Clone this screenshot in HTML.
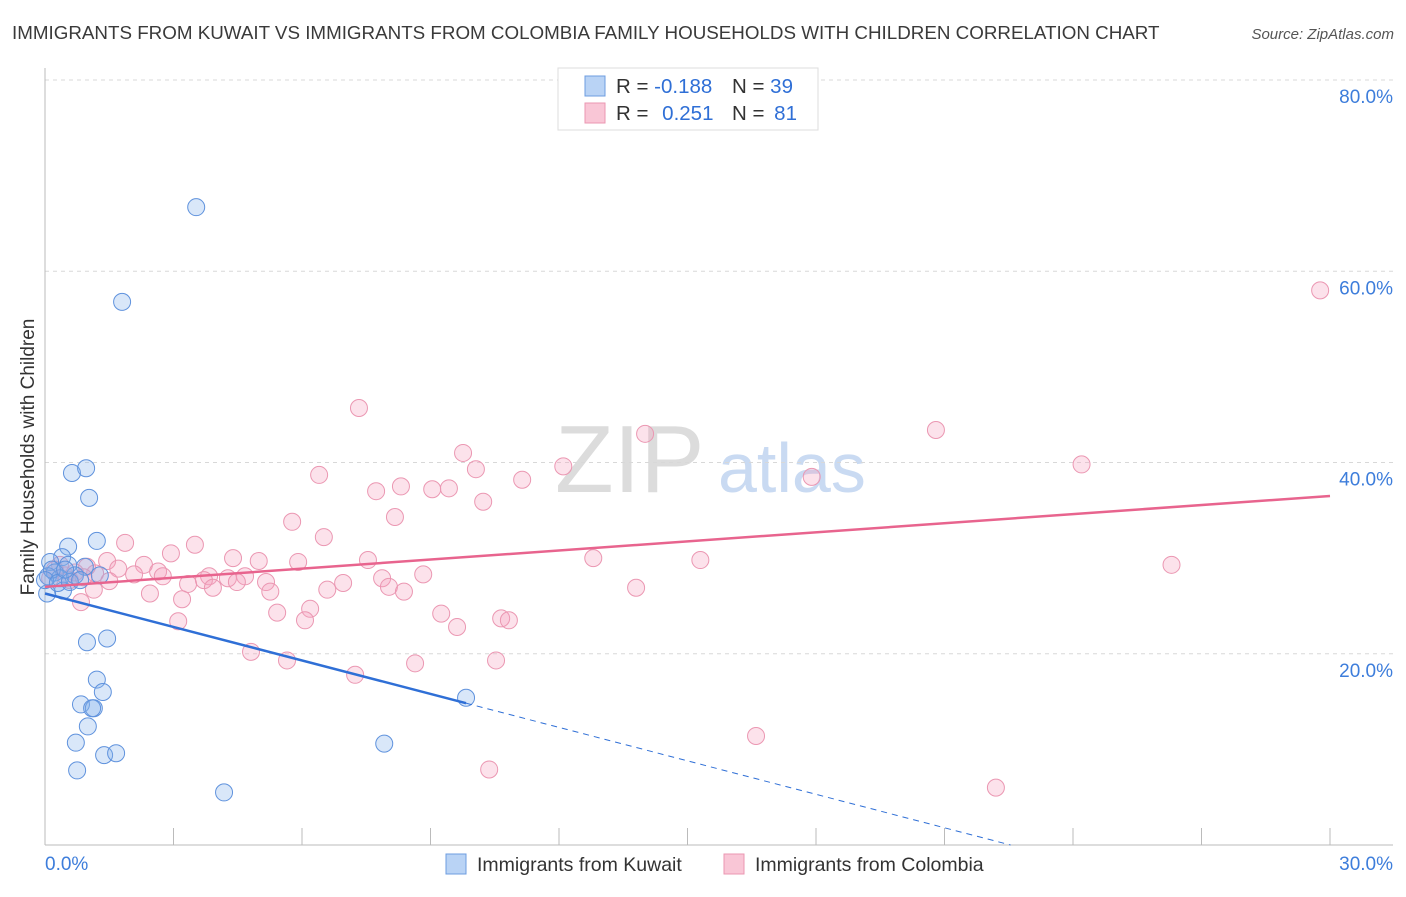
<!DOCTYPE html>
<html><head><meta charset="utf-8"><style>
body{margin:0;background:#fff;font-family:"Liberation Sans",sans-serif}
svg text{font-family:"Liberation Sans",sans-serif}
</style></head><body>
<svg id="c" width="1406" height="892">
<text x="12" y="39" font-size="18.8" fill="#3a3a3a">IMMIGRANTS FROM KUWAIT VS IMMIGRANTS FROM COLOMBIA FAMILY HOUSEHOLDS WITH CHILDREN CORRELATION CHART</text>
<text x="1394" y="39" font-size="15" fill="#555" font-style="italic" text-anchor="end">Source: ZipAtlas.com</text>
<text x="555" y="492" font-size="96" fill="#dcdcdc" font-family="Liberation Serif">ZIP</text>
<text x="718" y="492" font-size="70" fill="#c9daf2">atlas</text>
<text transform="translate(34,457) rotate(-90)" font-size="19" fill="#333" text-anchor="middle">Family Households with Children</text>
<g id="grid"></g><g id="pts"></g><g id="lines"></g>
<g>
<rect x="558" y="68" width="260" height="62" fill="#fff" stroke="#ddd"/>
<rect x="585" y="76" width="20" height="20" fill="#b9d3f5" stroke="#6d9de0"/>
<rect x="585" y="103" width="20" height="20" fill="#f9c6d6" stroke="#eb97b2"/>
<text x="616" y="93" font-size="20.5" fill="#333">R = <tspan fill="#2f6fd6">-0.188</tspan></text>
<text x="732" y="93" font-size="20.5" fill="#333">N = <tspan fill="#2f6fd6">39</tspan></text>
<text x="616" y="120" font-size="20.5" fill="#333">R = <tspan fill="#2f6fd6" dx="8">0.251</tspan></text>
<text x="732" y="120" font-size="20.5" fill="#333">N = <tspan fill="#2f6fd6" dx="4">81</tspan></text>
</g>
<g>
<rect x="446" y="854" width="20" height="20" fill="#b9d3f5" stroke="#6d9de0"/>
<text x="477" y="871" font-size="19.5" fill="#333">Immigrants from Kuwait</text>
<rect x="724" y="854" width="20" height="20" fill="#f9c6d6" stroke="#eb97b2"/>
<text x="755" y="871" font-size="19.5" fill="#333">Immigrants from Colombia</text>
</g>
</svg>
<script>
const yTicks=[20,40,60,80];
const xTickLabels=["0.0%","30.0%"];
const kuwaitX=[3.53,1.80,0.63,0.96,1.03,1.21,0.54,0.40,0.12,0.54,0.93,0.23,0.07,1.28,0.35,0.70,0.42,0.05,0.98,1.45,1.21,1.35,0.84,1.14,1.10,1.00,0.72,1.38,1.66,0.75,4.18,7.92,9.83,0.16,0.0,0.3,0.58,0.82,0.47];
const kuwaitY=[66.7,56.8,38.9,39.4,36.3,31.8,31.2,30.1,29.6,29.3,29.1,28.5,28.1,28.2,27.9,28.2,26.6,26.3,21.2,21.6,17.3,16.0,14.7,14.3,14.3,12.4,10.7,9.4,9.6,7.8,5.5,10.6,15.4,28.8,27.7,27.4,27.5,27.7,28.8];
const colombiaX=[29.77,7.33,14.01,20.8,9.76,12.1,10.06,24.2,17.9,6.40,11.14,8.31,7.73,9.04,9.43,10.23,8.17,5.77,6.51,1.87,3.50,2.94,4.39,7.54,12.8,15.3,26.3,4.99,5.91,1.45,2.31,0.98,1.71,2.64,2.08,2.75,3.83,4.67,4.27,3.71,5.16,7.87,8.83,1.50,3.34,6.96,3.92,4.48,8.03,6.59,5.26,1.14,2.45,13.8,8.38,3.20,0.84,6.19,5.42,9.25,10.65,10.83,6.07,3.11,9.62,4.81,5.65,10.53,8.64,7.24,16.6,10.37,22.2,0.23,0.47,0.70,0.35,0.12,0.58,1.17,0.9];
const colombiaY=[58.0,45.7,43.0,43.4,41.0,39.6,39.3,39.8,38.5,38.7,38.2,37.5,37.0,37.2,37.3,35.9,34.3,33.8,32.2,31.6,31.4,30.5,30.0,29.8,30.0,29.8,29.3,29.7,29.6,29.7,29.3,29.1,28.9,28.6,28.3,28.1,28.1,28.1,27.9,27.7,27.5,27.9,28.3,27.6,27.3,27.4,26.9,27.5,27.0,26.7,26.5,26.7,26.3,26.9,26.5,25.7,25.4,24.7,24.3,24.2,23.7,23.5,23.5,23.4,22.8,20.2,19.3,19.3,19.0,17.8,11.4,7.9,6.0,28.8,28.2,28.5,29.3,27.9,27.7,28.4,28.0];
const kuwaitTrend=[26.3,-8.7];
const colombiaTrend=[27.0,36.5];
const kuwaitSolidEnd=9.83;
const NS="http://www.w3.org/2000/svg";
const X=v=>45+v/30*1285, Y=v=>845-v/80*765;
function mk(t,a,p){const e=document.createElementNS(NS,t);for(const k in a)e.setAttribute(k,a[k]);p.appendChild(e);return e;}
const g=document.getElementById('grid');
yTicks.forEach(t=>{
 const l=mk('line',{x1:45,x2:1393,y1:Y(t),y2:Y(t),stroke:'#d8d8d8','stroke-dasharray':'4,4'},g);
 
 
 const tx=mk('text',{x:1393,y:Y(t)+23,'font-size':19,fill:'#3d7ddb','text-anchor':'end'},g);
 tx.textContent=t.toFixed(1)+'%';
 
 
});
const ax=mk('line',{x1:45,x2:45,y1:68,y2:845,stroke:'#bbb'},g);


const bx=mk('line',{x1:45,x2:1393,y1:845,y2:845,stroke:'#bbb'},g);


for(let i=0;i<=10;i++){const v=i*3;
 const t=mk('line',{x1:X(v),x2:X(v),y1:828,y2:845,stroke:'#bbb'},g);
 
 }
[[0,'start',45],[30,'end',1393]].forEach((d,i)=>{
 const t=mk('text',{x:d[2],y:870,'font-size':19,fill:'#3d7ddb','text-anchor':d[1]},g);
 t.textContent=xTickLabels[i];
 
 });
const p=document.getElementById('pts');
colombiaX.forEach((x,i)=>{const c=mk('circle',{cx:X(x),cy:Y(colombiaY[i]),r:8.5,fill:'rgba(245,160,188,0.3)',stroke:'#eb97b2','stroke-width':1},p);
 
 });
kuwaitX.forEach((x,i)=>{const c=mk('circle',{cx:X(x),cy:Y(kuwaitY[i]),r:8.5,fill:'rgba(130,175,235,0.3)',stroke:'#5f92dd','stroke-width':1},p);
 
 });
const L=document.getElementById('lines');
const ky=x=>kuwaitTrend[0]+(kuwaitTrend[1]-kuwaitTrend[0])*x/30;
const k1=mk('line',{x1:X(0),y1:Y(ky(0)),x2:X(kuwaitSolidEnd),y2:Y(ky(kuwaitSolidEnd)),stroke:'#2f6fd6','stroke-width':2.5},L);


const xz=30*kuwaitTrend[0]/(kuwaitTrend[0]-kuwaitTrend[1]);
const k2=mk('line',{x1:X(kuwaitSolidEnd),y1:Y(ky(kuwaitSolidEnd)),x2:X(xz),y2:Y(0),stroke:'#2f6fd6','stroke-width':1,'stroke-dasharray':'6,5'},L);


const c1=mk('line',{x1:X(0),y1:Y(colombiaTrend[0]),x2:X(30),y2:Y(colombiaTrend[1]),stroke:'#e8648e','stroke-width':2.5},L);


</script>
</body></html>
